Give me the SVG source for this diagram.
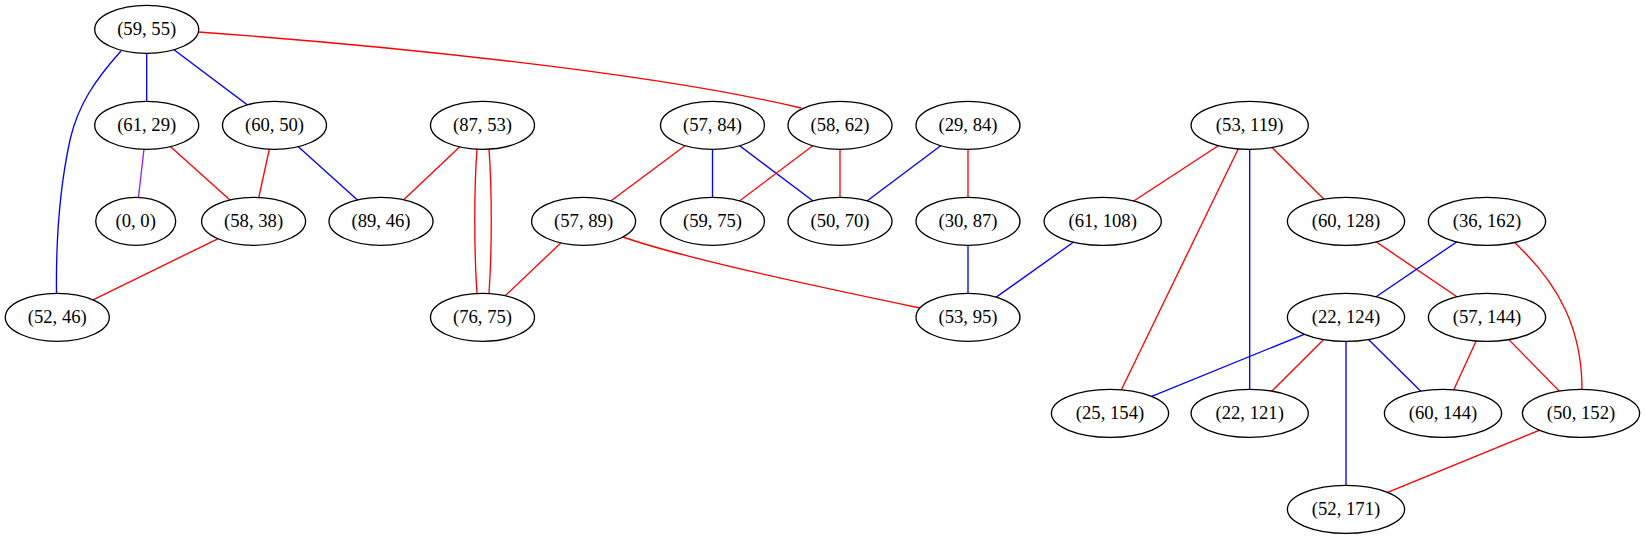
<svg xmlns="http://www.w3.org/2000/svg" width="1645" height="539" viewBox="0 0 1645 539">
<style>
.e{fill:none;stroke-width:1.33}
.r{stroke:#ff0000}
.b{stroke:#0000ff}
.p{stroke:#a020f0}
.n ellipse{fill:#ffffff;stroke:#000000;stroke-width:1.33}
.n text{font-family:"Liberation Serif","Times New Roman",serif;font-size:18.67px;text-anchor:middle;fill:#000000}
</style>
<rect width="1645" height="539" fill="#ffffff"/>
<g id="edges">
<line class="e b" x1="146.7" y1="29.3" x2="146.7" y2="125.3"/>
<line class="e b" x1="146.7" y1="29.3" x2="274.5" y2="125.3"/>
<path class="e b" d="M121,51 C95,80 78,105 70,140 C58,195 56,250 56.5,293.5"/>
<path class="e r" d="M198,32 C380,45 650,72 801,108"/>
<line class="e p" x1="146.7" y1="125.3" x2="135.7" y2="221.3"/>
<line class="e r" x1="146.7" y1="125.3" x2="253.6" y2="221.3"/>
<line class="e r" x1="274.5" y1="125.3" x2="253.6" y2="221.3"/>
<line class="e b" x1="274.5" y1="125.3" x2="381" y2="221.3"/>
<line class="e r" x1="482.5" y1="125.3" x2="381" y2="221.3"/>
<path class="e r" d="M477,149 C474,190 474,250 477,293.5"/>
<path class="e r" d="M489,149 C492,190 492,250 489,293.5"/>
<line class="e r" x1="253.6" y1="221.3" x2="57.3" y2="317.3"/>
<line class="e r" x1="712.5" y1="125.3" x2="583.6" y2="221.3"/>
<line class="e b" x1="712.5" y1="125.3" x2="712.5" y2="221.3"/>
<line class="e b" x1="712.5" y1="125.3" x2="840" y2="221.3"/>
<line class="e r" x1="840" y1="125.3" x2="712.5" y2="221.3"/>
<line class="e r" x1="840" y1="125.3" x2="840" y2="221.3"/>
<line class="e b" x1="968" y1="125.3" x2="840" y2="221.3"/>
<line class="e r" x1="968" y1="125.3" x2="968" y2="221.3"/>
<line class="e r" x1="583.6" y1="221.3" x2="482.5" y2="317.3"/>
<path class="e r" d="M623,237 C680,257 800,283 920,308"/>
<line class="e b" x1="968" y1="221.3" x2="968" y2="317.3"/>
<line class="e b" x1="1102.7" y1="221.3" x2="968" y2="317.3"/>
<line class="e r" x1="1249.7" y1="125.3" x2="1102.7" y2="221.3"/>
<line class="e r" x1="1249.7" y1="125.3" x2="1110" y2="413.3"/>
<line class="e b" x1="1249.7" y1="125.3" x2="1249.7" y2="413.3"/>
<line class="e r" x1="1249.7" y1="125.3" x2="1346" y2="221.3"/>
<line class="e r" x1="1346" y1="221.3" x2="1487" y2="317.3"/>
<line class="e b" x1="1487" y1="221.3" x2="1346" y2="317.3"/>
<path class="e r" d="M1515,243 C1560,285 1582,330 1582,389.5"/>
<line class="e b" x1="1346" y1="317.3" x2="1110" y2="413.3"/>
<line class="e r" x1="1346" y1="317.3" x2="1249.7" y2="413.3"/>
<line class="e b" x1="1346" y1="317.3" x2="1443" y2="413.3"/>
<line class="e b" x1="1346" y1="317.3" x2="1346" y2="509.3"/>
<line class="e r" x1="1487" y1="317.3" x2="1443" y2="413.3"/>
<line class="e r" x1="1487" y1="317.3" x2="1581" y2="413.3"/>
<line class="e r" x1="1581" y1="413.3" x2="1346" y2="509.3"/>
</g>
<g id="n_59_55" class="n"><ellipse cx="146.7" cy="29.3" rx="52" ry="24"/><text x="146.7" y="34.9">(59, 55)</text></g>
<g id="n_61_29" class="n"><ellipse cx="146.7" cy="125.3" rx="52" ry="24"/><text x="146.7" y="130.9">(61, 29)</text></g>
<g id="n_60_50" class="n"><ellipse cx="274.5" cy="125.3" rx="52" ry="24"/><text x="274.5" y="130.9">(60, 50)</text></g>
<g id="n_87_53" class="n"><ellipse cx="482.5" cy="125.3" rx="52" ry="24"/><text x="482.5" y="130.9">(87, 53)</text></g>
<g id="n_0_0" class="n"><ellipse cx="135.7" cy="221.3" rx="40" ry="24"/><text x="135.7" y="226.9">(0, 0)</text></g>
<g id="n_58_38" class="n"><ellipse cx="253.6" cy="221.3" rx="52" ry="24"/><text x="253.6" y="226.9">(58, 38)</text></g>
<g id="n_89_46" class="n"><ellipse cx="381" cy="221.3" rx="52" ry="24"/><text x="381" y="226.9">(89, 46)</text></g>
<g id="n_52_46" class="n"><ellipse cx="57.3" cy="317.3" rx="52" ry="24"/><text x="57.3" y="322.9">(52, 46)</text></g>
<g id="n_76_75" class="n"><ellipse cx="482.5" cy="317.3" rx="52" ry="24"/><text x="482.5" y="322.9">(76, 75)</text></g>
<g id="n_57_84" class="n"><ellipse cx="712.5" cy="125.3" rx="52" ry="24"/><text x="712.5" y="130.9">(57, 84)</text></g>
<g id="n_58_62" class="n"><ellipse cx="840" cy="125.3" rx="52" ry="24"/><text x="840" y="130.9">(58, 62)</text></g>
<g id="n_29_84" class="n"><ellipse cx="968" cy="125.3" rx="52" ry="24"/><text x="968" y="130.9">(29, 84)</text></g>
<g id="n_57_89" class="n"><ellipse cx="583.6" cy="221.3" rx="52" ry="24"/><text x="583.6" y="226.9">(57, 89)</text></g>
<g id="n_59_75" class="n"><ellipse cx="712.5" cy="221.3" rx="52" ry="24"/><text x="712.5" y="226.9">(59, 75)</text></g>
<g id="n_50_70" class="n"><ellipse cx="840" cy="221.3" rx="52" ry="24"/><text x="840" y="226.9">(50, 70)</text></g>
<g id="n_30_87" class="n"><ellipse cx="968" cy="221.3" rx="52" ry="24"/><text x="968" y="226.9">(30, 87)</text></g>
<g id="n_53_95" class="n"><ellipse cx="968" cy="317.3" rx="52" ry="24"/><text x="968" y="322.9">(53, 95)</text></g>
<g id="n_53_119" class="n"><ellipse cx="1249.7" cy="125.3" rx="58.6" ry="24"/><text x="1249.7" y="130.9">(53, 119)</text></g>
<g id="n_61_108" class="n"><ellipse cx="1102.7" cy="221.3" rx="58.6" ry="24"/><text x="1102.7" y="226.9">(61, 108)</text></g>
<g id="n_60_128" class="n"><ellipse cx="1346" cy="221.3" rx="58.6" ry="24"/><text x="1346" y="226.9">(60, 128)</text></g>
<g id="n_36_162" class="n"><ellipse cx="1487" cy="221.3" rx="58.6" ry="24"/><text x="1487" y="226.9">(36, 162)</text></g>
<g id="n_22_124" class="n"><ellipse cx="1346" cy="317.3" rx="58.6" ry="24"/><text x="1346" y="322.9">(22, 124)</text></g>
<g id="n_57_144" class="n"><ellipse cx="1487" cy="317.3" rx="58.6" ry="24"/><text x="1487" y="322.9">(57, 144)</text></g>
<g id="n_25_154" class="n"><ellipse cx="1110" cy="413.3" rx="58.6" ry="24"/><text x="1110" y="418.9">(25, 154)</text></g>
<g id="n_22_121" class="n"><ellipse cx="1249.7" cy="413.3" rx="58.6" ry="24"/><text x="1249.7" y="418.9">(22, 121)</text></g>
<g id="n_60_144" class="n"><ellipse cx="1443" cy="413.3" rx="58.6" ry="24"/><text x="1443" y="418.9">(60, 144)</text></g>
<g id="n_50_152" class="n"><ellipse cx="1581" cy="413.3" rx="58.6" ry="24"/><text x="1581" y="418.9">(50, 152)</text></g>
<g id="n_52_171" class="n"><ellipse cx="1346" cy="509.3" rx="58.6" ry="24"/><text x="1346" y="514.9">(52, 171)</text></g>
</svg>
